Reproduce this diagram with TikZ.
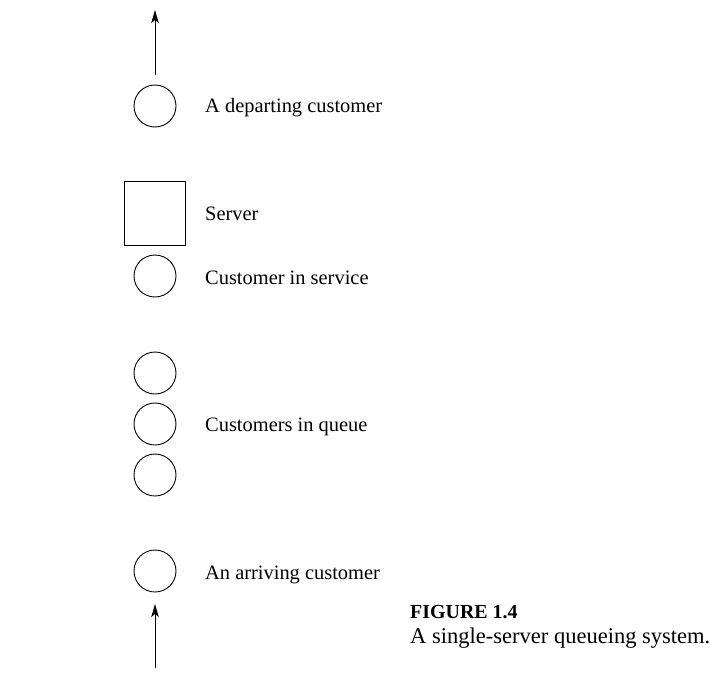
\documentclass[tikz,border=0pt]{standalone}
\usepackage{fontspec}
\setmainfont{Liberation Serif}
\usetikzlibrary{arrows.meta}
\begin{document}
\begin{tikzpicture}[x=1bp,y=-1bp,
  cust/.style={draw,circle,minimum size=42bp,inner sep=0pt,line width=0.9bp},
  srv/.style={draw,rectangle,minimum width=61bp,minimum height=64bp,inner sep=0pt,line width=0.9bp},
  lbl/.style={anchor=base west,inner sep=0pt,font=\fontsize{20.5}{24}\selectfont},
  captxt/.style={anchor=base west,inner sep=0pt,font=\fontsize{22.6}{26}\selectfont},
  flow/.style={line width=1bp,-{Stealth[length=13bp,width=7.5bp,inset=3bp]}}]
\useasboundingbox (0,0) rectangle (717,697);
% top arrow
\coordinate (topA) at (155,75);
\coordinate (topB) at (155,10);
\draw[flow] (topA) -- (topB);
\node[cust] (dep) at (155,106) {};
\node[lbl] (tdep) at (205,113) {A departing customer};
\node[srv] (server) at (155,213) {};
\node[lbl] (tsrv) at (205,220) {Server};
\node[cust] (insvc) at (155,276) {};
\node[lbl] (tsvc) at (205,284) {Customer in service};
\node[cust] (q1) at (155,373) {};
\node[cust] (q2) at (155,424) {};
\node[cust] (q3) at (155,475) {};
\node[lbl] (tq) at (205,431) {Customers in queue};
\node[cust] (arr) at (155,571) {};
\node[lbl] (tarr) at (205,579) {An arriving customer};
\coordinate (botA) at (155,668);
\coordinate (botB) at (155,604);
\draw[flow] (botA) -- (botB);
\node[captxt,font=\fontsize{20}{26}\selectfont\bfseries] (fig) at (410,618) {FIGURE 1.4};
\node[captxt] (capt) at (410,643) {A single-server queueing system.};
\end{tikzpicture}
\end{document}
